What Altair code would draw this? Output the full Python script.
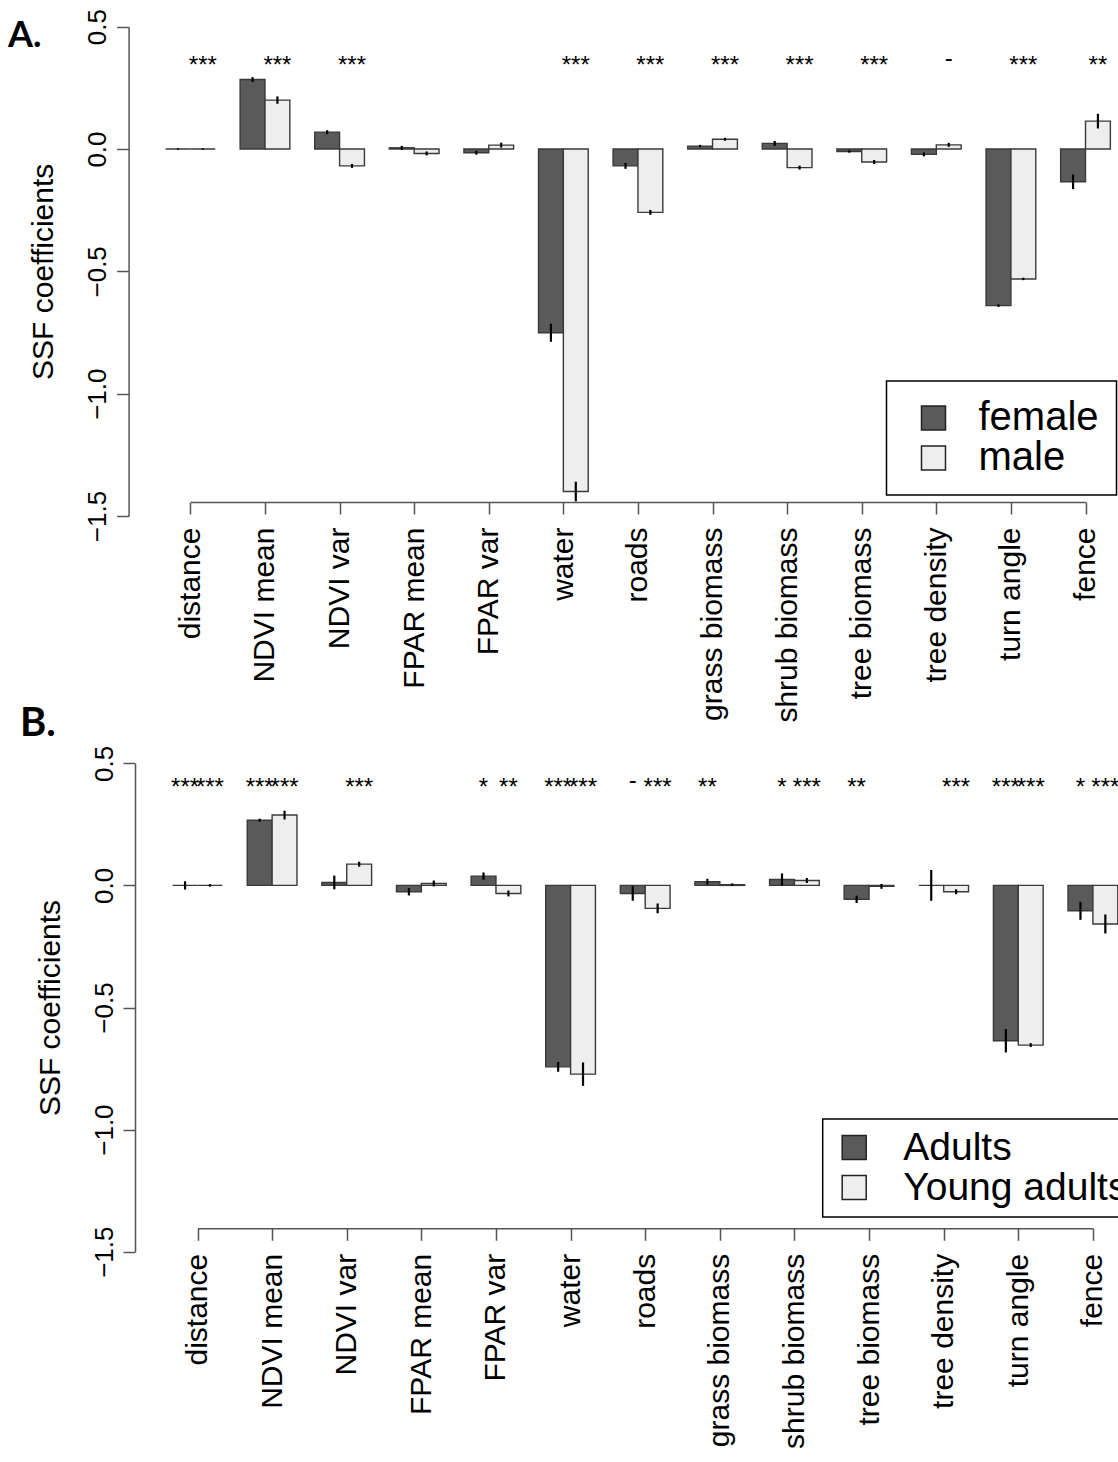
import json

import altair as alt
import pandas as pd

# ---------------------------------------------------------------- data
features = ["distance", "NDVI mean", "NDVI var", "FPAR mean", "FPAR var", "water",
            "roads", "grass biomass", "shrub biomass", "tree biomass", "tree density",
            "turn angle", "fence"]

# A. SSF coefficients by sex (estimate and standard error)
female = [0.000, 0.284, 0.069, 0.005, -0.015, -0.751, -0.069, 0.012, 0.023, -0.010,
          -0.022, -0.640, -0.134]
female_se = [0.003, 0.010, 0.008, 0.008, 0.008, 0.037, 0.012, 0.005, 0.010, 0.005,
             0.008, 0.005, 0.030]
male = [0.000, 0.200, -0.069, -0.018, 0.016, -1.400, -0.259, 0.040, -0.076, -0.053,
        0.017, -0.531, 0.114]
male_se = [0.003, 0.015, 0.008, 0.008, 0.010, 0.040, 0.010, 0.006, 0.008, 0.008,
           0.008, 0.005, 0.030]
female_signif = [""] * 13
male_signif = ["***", "***", "***", "", "", "***", "***", "***", "***", "***", "-",
               "***", "**"]

# B. SSF coefficients by age class
adults = [0.000, 0.267, 0.012, -0.026, 0.038, -0.743, -0.033, 0.015, 0.024, -0.057,
          0.000, -0.636, -0.104]
adults_se = [0.017, 0.006, 0.028, 0.015, 0.015, 0.020, 0.030, 0.012, 0.025, 0.015,
             0.063, 0.048, 0.037]
young = [0.000, 0.288, 0.087, 0.008, -0.033, -0.773, -0.094, 0.003, 0.020, -0.004,
         -0.026, -0.654, -0.158]
young_se = [0.005, 0.018, 0.010, 0.012, 0.012, 0.048, 0.020, 0.005, 0.010, 0.010,
            0.010, 0.008, 0.039]
adults_signif = ["***", "***", "", "", "*", "***", "-", "**", "*", "**", "", "***", "*"]
young_signif = ["***", "***", "***", "", "**", "***", "***", "", "***", "", "***",
                "***", "***"]

panel_labels = ["A.", "B."]

# ---------------------------------------------------------------- styling
FONT = "Liberation Sans"
DARK, LIGHT = "#5a5a5a", "#eeeeee"
AXIS_GREY = "#555555"
W, H = 1118, 1462
# barplot layout: each feature takes 3 bar widths (2 bars + 1 gap), centres at 2, 5, ...
centres = [3 * i + 2 for i in range(len(features))]
x_domain = [centres[0], centres[-1]]


def panel_table(series):
    rows = []
    for i, feat in enumerate(features):
        for j, (name, vals, ses, sig) in enumerate(series):
            left = 3 * i + 1 + j
            rows.append({
                "feature": feat, "group": name, "value": vals[i],
                "lo": vals[i] - ses[i], "hi": vals[i] + ses[i],
                "x0": left, "x1": left + 1, "xc": left + 0.5, "stars": sig[i],
            })
    return pd.DataFrame(rows)


def panel(df, groups, x_range, y_range, x_axis_y, y_axis_x, star_level, legend):
    x_scale = alt.Scale(domain=x_domain, range=x_range, nice=False, zero=False)
    y_scale = alt.Scale(domain=[-1.5, 0.5], range=y_range, nice=False, zero=False)
    names = json.dumps(features)
    x_axis = alt.Axis(
        values=centres, labelExpr=f"{names}[round((datum.value - 2) / 3)]",
        orient="bottom", offset=x_axis_y - H, title=None, grid=False,
        labelAngle=270, labelAlign="right", labelBaseline="middle", labelPadding=13,
        labelFontSize=30, labelFont=FONT, labelColor="black", labelFlush=False,
        labelOverlap=False, labelLimit=0, tickSize=12, tickWidth=1.5,
        tickColor=AXIS_GREY, domainColor=AXIS_GREY, domainWidth=1.5,
    )
    y_axis = alt.Axis(
        values=[-1.5, -1.0, -0.5, 0.0, 0.5],
        labelExpr="replace(format(datum.value, '.1f'), '-', '\u2212')",
        orient="left", offset=-y_axis_x, grid=False,
        labelAngle=270, labelAlign="center", labelBaseline="alphabetic",
        labelPadding=11, labelFontSize=26, labelFont=FONT, labelColor="black",
        labelFlush=False, labelOverlap=False,
        tickSize=12, tickWidth=1.5, tickColor=AXIS_GREY,
        domainColor=AXIS_GREY, domainWidth=1.5,
        title="SSF coefficients", titleFont=FONT, titleFontSize=30,
        titleFontWeight="normal", titleColor="black", titleAngle=270,
        titleAlign="center", titleBaseline="alphabetic",
        titleX=-76, titleY=sum(y_range) / 2,
    )
    base = alt.Chart(df)
    bars = base.mark_rect(stroke="#3a3a3a", strokeWidth=1.4).encode(
        x=alt.X("x0:Q", scale=x_scale, axis=x_axis),
        x2="x1:Q",
        y=alt.Y("value:Q", scale=y_scale, axis=y_axis),
        y2=alt.datum(0),
        fill=alt.Fill("group:N", sort=groups,
                      scale=alt.Scale(domain=groups, range=[DARK, LIGHT]),
                      legend=legend),
    )
    errs = base.mark_rule(color="black", strokeWidth=2.2).encode(
        x="xc:Q", y="lo:Q", y2="hi:Q")
    stars = base.transform_filter(
        "datum.stars != '' && datum.stars != '-'"
    ).mark_text(font=FONT, fontSize=24, dy=7, color="black").encode(
        x="xc:Q", y=alt.datum(star_level), text="stars:N")
    dashes = base.transform_filter("datum.stars == '-'").mark_text(
        font=FONT, fontSize=24, dy=0, color="black"
    ).encode(x="xc:Q", y=alt.datum(star_level), text="stars:N")
    return alt.layer(bars, errs, stars, dashes)


def legend(x, y, font_size, padding, symbol_offset, label_offset, row_padding):
    return alt.Legend(
        orient="none", legendX=x, legendY=y, title=None, direction="vertical",
        symbolType="square", symbolSize=576, symbolStrokeColor="#222222",
        symbolStrokeWidth=1.5, symbolOffset=symbol_offset,
        labelFont=FONT, labelFontSize=font_size, labelColor="black",
        labelOffset=label_offset, labelLimit=0, rowPadding=row_padding,
        padding=padding, strokeColor="black", fillColor="white",
    )


sex_df = panel_table([("female", female, female_se, female_signif),
                      ("male", male, male_se, male_signif)])
age_df = panel_table([("Adults", adults, adults_se, adults_signif),
                      ("Young adults", young, young_se, young_signif)])

panel_a = panel(sex_df, ["female", "male"], [190.4, 1085.5], [516.0, 26.7],
                x_axis_y=502, y_axis_x=128.6, star_level=0.366,
                legend=legend(886.5, 381, 40, 17, 10, 25, -3))
panel_b = panel(age_df, ["Adults", "Young adults"], [197.5, 1092.9], [1251.7, 763.3],
                x_axis_y=1228.3, y_axis_x=135, star_level=0.428,
                legend=legend(822.7, 1119, 39, 9, 3, 29.6, -3))

letter_a = alt.Chart(pd.DataFrame({"label": panel_labels[:1]})).mark_text(
    font="Lato", fontWeight="bold", fontSize=36, align="left", baseline="alphabetic",
    color="black",
).encode(x=alt.value(8), y=alt.value(47), text="label:N")
letter_b = alt.Chart(pd.DataFrame({"label": panel_labels[1:]})).mark_text(
    font="Lato", fontWeight="bold", fontSize=40, align="left", baseline="alphabetic",
    color="black",
).encode(x=alt.value(20), y=alt.value(736), text="label:N")

chart = alt.layer(panel_a, panel_b, letter_a, letter_b).resolve_scale(
    x="independent", y="independent", fill="independent"
).resolve_legend(fill="independent").properties(
    width=W, height=H, padding=0, background="white",
    autosize=alt.AutoSizeParams(type="none"),
).configure_view(stroke="transparent").configure_legend(strokeWidth=1.5)

chart.save("out.html", embed_options={"renderer": "svg", "actions": False})
